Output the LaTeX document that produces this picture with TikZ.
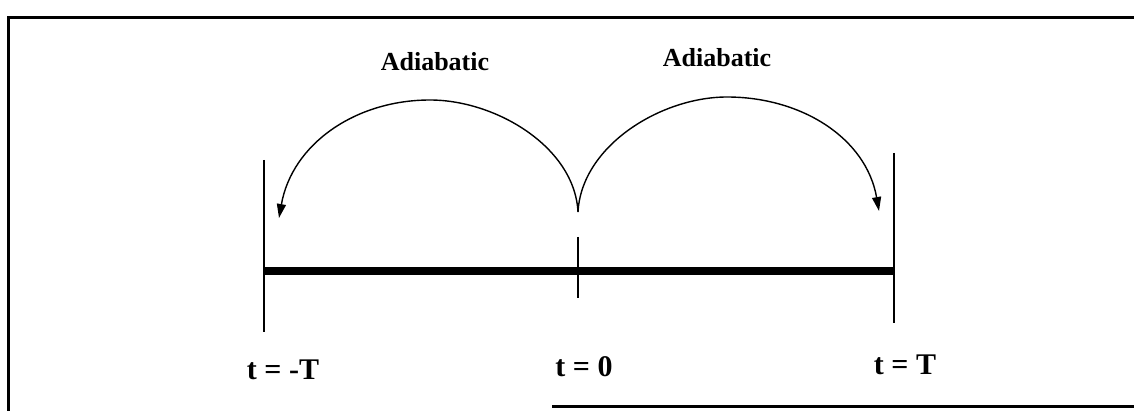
\documentclass[tikz,border=0pt]{standalone}
\usepackage{fontspec}
\setmainfont{Liberation Serif}
\usetikzlibrary{arrows.meta, calc}

\begin{document}
\begin{tikzpicture}[x=0.5pt, y=-0.5pt, font=\fontsize{13}{15}\selectfont\bfseries,
    tick/.style={line width=1pt},
    timelabel/.style={font=\fontsize{15}{17}\selectfont\bfseries},
    arc/.style={line width=0.7pt, -{Triangle[length=7pt, width=4.5pt]}}]

    % 1. Define the coordinates
    \useasboundingbox (0,0) rectangle (1134,411);
    \coordinate (L) at (264,271);
    \coordinate (M) at (578,271);
    \coordinate (R) at (894,271);
    \coordinate (cusp) at (578,212);
    \coordinate (topL) at (430,100);
    \coordinate (topR) at (727,97);
    \coordinate (tipL) at (279,218);
    \coordinate (tipR) at (879,211);

    % 2. Draw the frame
    \draw[line width=1.5pt] (1134,18) -- (8,18) -- (8,411);
    \draw[line width=1.5pt] (552,406) -- (1134,406);

    % 3. Draw the time axis and the ticks
    \draw[line width=4pt] (L) -- (R);
    \draw[tick] ($(L)+(0,-111)$) -- ($(L)+(0,61)$);
    \draw[tick] ($(M)+(0,-34)$) -- ($(M)+(0,27)$);
    \draw[tick] ($(R)+(0,-118)$) -- ($(R)+(0,52)$);

    % 4. Draw the two adiabatic arcs
    \draw[arc] (cusp) to[out=93, in=0, looseness=0.9] (topL) to[out=180, in=80] (tipL);
    \draw[arc] (cusp) to[out=87, in=180, looseness=0.9] (topR) to[out=0, in=100] (tipR);

    % 5. Label the arcs and the times
    \node (adL) at (435,62) {Adiabatic};
    \node (adR) at (717,58) {Adiabatic};
    \node[timelabel] (tL) at (283,370) {t = -T};
    \node[timelabel] (tM) at (584,367) {t = 0};
    \node[timelabel] (tR) at (905,365) {t = T};

\end{tikzpicture}
\end{document}
